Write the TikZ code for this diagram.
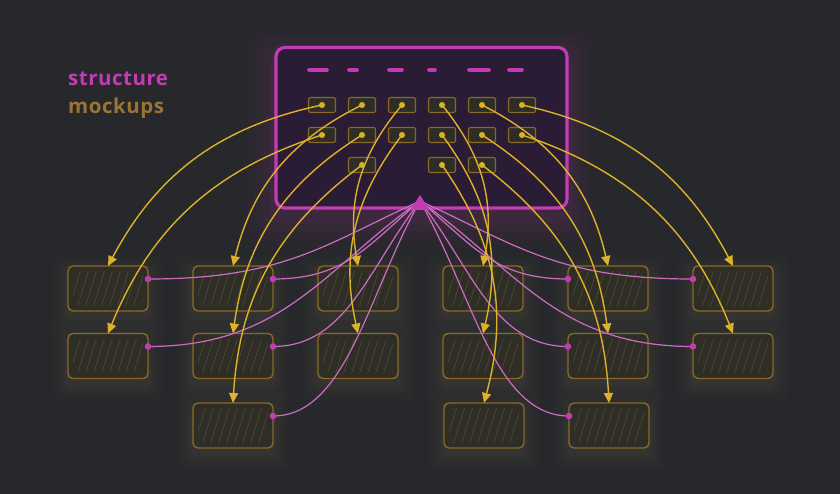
\documentclass[tikz,border=0pt]{standalone}
\usepackage{fontspec}
\setmainfont{Fira Sans}
\newfontfamily\lblfont[LetterSpace=2.5]{Open Sans}
\usetikzlibrary{arrows.meta,calc}
\definecolor{bg}{HTML}{27282B}
\definecolor{mag}{HTML}{C43CB4}
\definecolor{magline}{HTML}{CC6CC4}
\definecolor{panelfill}{HTML}{2A1C35}
\definecolor{yel}{HTML}{DDB22A}
\definecolor{boxline}{HTML}{8C6826}
\definecolor{boxfill}{HTML}{2E2D26}
\definecolor{hatchc}{HTML}{4A4430}
\definecolor{mocktext}{HTML}{9A7430}
\definecolor{glowc}{HTML}{8C8866}
\tikzset{
  mock/.style={draw=boxline, line width=1.4pt, fill=boxfill, rounded corners=5pt,
    minimum width=80pt, minimum height=45pt, inner sep=0pt, outer sep=0pt,
    path picture={
      \begin{scope}
      \clip ([shift={(5,5)}]path picture bounding box.north west) rectangle ([shift={(-5,-5)}]path picture bounding box.south east);
      \foreach \k in {-16,-8,...,88} \draw[hatchc, line width=0.8pt] ([xshift=\k pt]path picture bounding box.south west) -- ++(15,-48);
      \end{scope}}},
  small/.style={draw=boxline, line width=1.1pt, fill=boxfill, rounded corners=2pt,
    minimum width=27pt, minimum height=15pt, inner sep=0pt, outer sep=0pt},
  panelbox/.style={draw=mag, line width=3.2pt, fill=panelfill, rounded corners=9pt,
    minimum width=291pt, minimum height=160.5pt, inner sep=0pt, outer sep=0pt},
  yline/.style={draw=yel, line width=1.4pt, -{Triangle[length=10pt,width=9pt]}},
  mline/.style={draw=magline, line width=1.2pt},
  dashseg/.style={draw=mag, line width=3.6pt, line cap=round},
  lbl/.style={anchor=base west, inner sep=0pt, font=\lblfont\bfseries\fontsize{20.5}{20.5}\selectfont},
}
\begin{document}
\begin{tikzpicture}[x=1pt,y=-1pt]
\fill[bg] (0,0) rectangle (840,494);
\useasboundingbox (0,0) rectangle (840,494);

% panel glow
\foreach \e/\o in {30/0.025,21/0.035,13/0.045,6/0.06}
  \fill[mag, opacity=\o, rounded corners=14pt] (276-\e,47.5-\e+10) rectangle (567+\e,208+\e+10);

% mockup glows
\foreach \cx/\cy in {108/288.5,233/288.5,358/288.5,483/288.5,608/288.5,733/288.5,
                     108/356,233/356,358/356,483/356,608/356,733/356,
                     233/425.5,484/425.5,609/425.5}{
  \foreach \e/\o in {16/0.022,11/0.03,7/0.04,3/0.05}
    \fill[glowc, opacity=\o, rounded corners=8pt] (\cx-40-\e,\cy-22.5-\e+6) rectangle (\cx+40+\e,\cy+22.5+\e+6);
}

% labels
\node[lbl, text=mag] (lblS) at (68,86) {structure};
\node[lbl, text=mocktext] (lblM) at (68,114) {mockups};

% panel
\node[panelbox] (panel) at (421.5,127.75) {};
\draw[dashseg] (309,70) -- (327,70);
\draw[dashseg] (349,70) -- (357,70);
\draw[dashseg] (389,70) -- (402,70);
\draw[dashseg] (429,70) -- (435,70);
\draw[dashseg] (469,70) -- (489,70);
\draw[dashseg] (509,70) -- (522,70);

% small boxes
\foreach \c/\x in {1/322,2/362,3/402,4/442,5/482,6/522}{
  \node[small] (sA\c) at (\x,105) {};
  \node[small] (sB\c) at (\x,135) {};
}
\node[small] (sC2) at (362,165) {};
\node[small] (sC4) at (442,165) {};
\node[small] (sC5) at (482,165) {};

% mockup boxes
\foreach \c/\x in {1/108,2/233,3/358,4/483,5/608,6/733}{
  \node[mock] (m1\c) at (\x,288.5) {};
  \node[mock] (m2\c) at (\x,356) {};
}
\node[mock] (m32) at (233,425.5) {};
\node[mock] (m34) at (484,425.5) {};
\node[mock] (m35) at (609,425.5) {};

% magenta endpoints
\foreach \n in {11,12,21,22,32}
  \coordinate (d\n) at ($(m\n.north east)+(0,13)$);
\foreach \n in {15,16,25,26,35}
  \coordinate (d\n) at ($(m\n.north west)+(0,13)$);
\coordinate (apex) at (420,201);

\foreach \n in {11,12,15,16,21,22,25,26,32,35}
  \draw[mline] (apex) .. controls ($(apex)!0.35!(d\n)+(0,16)$) and ($(d\n)!0.5!(apex|-d\n)$) .. (d\n);

% triangle
\fill[mag] (420,195) -- (429.5,210) -- (410.5,210) -- cycle;

\foreach \n in {11,12,15,16,21,22,25,26,32,35}
  \fill[mag] (d\n) circle[radius=3.3];

% yellow arrows
\draw[yline] (sA1.center) to[bend right=25] (m11.north);
\draw[yline] (sA2.center) to[bend right=25] (m12.north);
\draw[yline] (sA3.center) to[bend right=25] (m13.north);
\draw[yline] (sA4.center) to[bend left=25] (m14.north);
\draw[yline] (sA5.center) to[bend left=25] (m15.north);
\draw[yline] (sA6.center) to[bend left=25] (m16.north);
\draw[yline] (sB1.center) to[bend right=25] (m21.north);
\draw[yline] (sB2.center) to[bend right=25] (m22.north);
\draw[yline] (sB3.center) to[bend right=25] (m23.north);
\draw[yline] (sB4.center) to[bend left=25] (m24.north);
\draw[yline] (sB5.center) to[bend left=25] (m25.north);
\draw[yline] (sB6.center) to[bend left=25] (m26.north);
\draw[yline] (sC2.center) to[bend right=25] (m32.north);
\draw[yline] (sC4.center) to[bend left=25] (m34.north);
\draw[yline] (sC5.center) to[bend left=25] (m35.north);

% yellow dots
\foreach \n in {A1,A2,A3,A4,A5,A6,B1,B2,B3,B4,B5,B6,C2,C4,C5}
  \fill[yel] (s\n.center) circle[radius=3];
\end{tikzpicture}
\end{document}
